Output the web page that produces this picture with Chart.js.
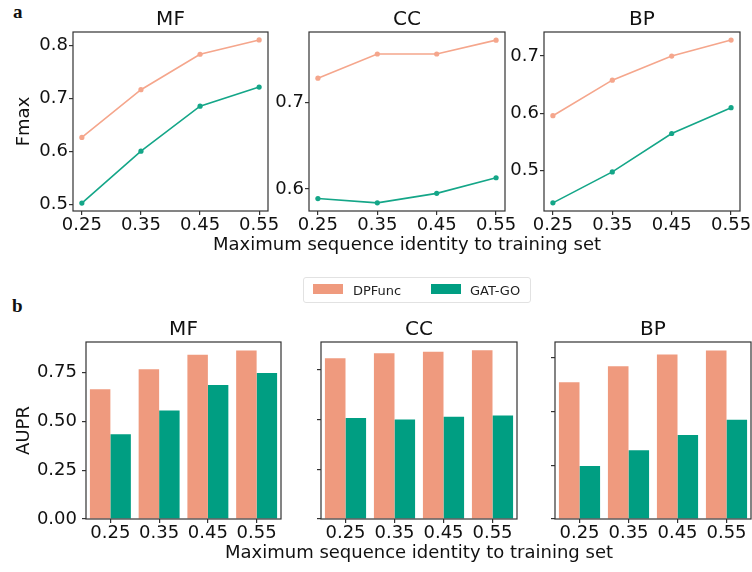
<!DOCTYPE HTML>
<html>

<head>
    <title>DPFunc vs GAT-GO</title>
    <script src="https://cdn.jsdelivr.net/npm/chart.js@4.4.1/dist/chart.umd.min.js"></script>
    <style>
        html,
        body {
            margin: 0;
            padding: 0;
            background: #fff;
            width: 752px;
            height: 572px;
            overflow: hidden;
            font-family: "DejaVu Sans", sans-serif;
        }

        canvas {
            position: absolute;
        }

        .panel {
            position: absolute;
            font-family: "Liberation Serif", serif;
            font-weight: bold;
            font-size: 19px;
            color: #111;
        }

        .xlabel {
            position: absolute;
            width: 420px;
            height: 20px;
            line-height: 20px;
            text-align: center;
            font-size: 18px;
            color: #111;
            white-space: nowrap;
        }

        #legend {
            position: absolute;
            left: 303px;
            top: 277px;
            width: 226px;
            height: 24px;
            border: 1px solid #e2e2e2;
            border-radius: 3px;
            font-size: 13px;
            color: #222;
        }

        #legend span {
            position: absolute;
            top: 5px;
        }

        #legend i {
            position: absolute;
            top: 6px;
            width: 30px;
            height: 10px;
        }
    </style>
</head>

<body>
    <div class="panel" style="left:13px;top:1px;">a</div>
    <div class="panel" style="left:12px;top:295px;">b</div>

    <canvas id="fMF" width="290" height="256" style="left:0px;top:0px;"></canvas>
    <canvas id="fCC" width="257" height="256" style="left:270px;top:0px;"></canvas>
    <canvas id="fBP" width="247" height="256" style="left:505px;top:0px;"></canvas>
    <div class="xlabel" style="left:197px;top:234px;">Maximum sequence identity to training set</div>

    <div id="legend">
        <i style="left:9px;background:#EF9A7E;"></i><span style="left:49px;">DPFunc</span>
        <i style="left:127px;background:#009E82;"></i><span style="left:166px;">GAT-GO</span>
    </div>

    <canvas id="aMF" width="287" height="258" style="left:0px;top:306px;"></canvas>
    <canvas id="aCC" width="233" height="258" style="left:290px;top:306px;"></canvas>
    <canvas id="aBP" width="227" height="258" style="left:525px;top:306px;"></canvas>
    <div class="xlabel" style="left:209px;top:542px;">Maximum sequence identity to training set</div>

    <script>
        // maximum sequence identity to training set
        const identity = ['0.25', '0.35', '0.45', '0.55'];
        const xTickValues = [0.25, 0.35, 0.45, 0.55];

        // panel a: Fmax
        const fmaxMF_DPFunc = [0.626, 0.716, 0.783, 0.810];
        const fmaxMF_GATGO = [0.502, 0.600, 0.685, 0.721];
        const fmaxCC_DPFunc = [0.728, 0.756, 0.756, 0.772];
        const fmaxCC_GATGO = [0.589, 0.584, 0.595, 0.613];
        const fmaxBP_DPFunc = [0.596, 0.658, 0.700, 0.728];
        const fmaxBP_GATGO = [0.444, 0.498, 0.565, 0.610];
        const fmaxTicksMF = [0.5, 0.6, 0.7, 0.8];
        const fmaxTicksCC = [0.6, 0.7];
        const fmaxTicksBP = [0.5, 0.6, 0.7];

        // panel b: AUPR
        const auprMF_DPFunc = [0.665, 0.767, 0.842, 0.864];
        const auprMF_GATGO = [0.434, 0.556, 0.687, 0.748];
        const auprCC_DPFunc = [0.807, 0.833, 0.840, 0.847];
        const auprCC_GATGO = [0.507, 0.500, 0.513, 0.520];
        const auprBP_DPFunc = [0.636, 0.710, 0.765, 0.784];
        const auprBP_GATGO = [0.246, 0.320, 0.390, 0.462];
        const auprTicks = [0, 0.25, 0.5, 0.75];

        const FONT = 'DejaVu Sans';
        const INK = '#111';
        const FRAME = '#333';
        const TICK_SIZE = 18;

        Chart.defaults.font.family = FONT;
        Chart.defaults.color = INK;

        // matplotlib style box around the plot area
        const framePlugin = {
            id: 'frame',
            afterDraw(chart) {
                const a = chart.chartArea;
                const ctx = chart.ctx;
                ctx.save();
                ctx.strokeStyle = FRAME;
                ctx.lineWidth = 1.2;
                ctx.strokeRect(a.left, a.top, a.right - a.left, a.bottom - a.top);
                ctx.restore();
            }
        };

        function gridOpts() {
            return {
                drawOnChartArea: false,
                drawTicks: true,
                tickLength: 4,
                color: FRAME,
                tickColor: FRAME,
                lineWidth: 1.2
            };
        }

        function lineChart(id, title, dp, gat, yMin, yMax, yTicks, o) {
            const toPts = arr => identity.map((v, i) => ({ x: parseFloat(v), y: arr[i] }));
            return new Chart(document.getElementById(id), {
                type: 'line',
                data: {
                    datasets: [{
                        label: 'DPFunc', data: toPts(dp),
                        borderColor: '#F5A68C', backgroundColor: '#F5A68C',
                        borderWidth: 1.6, pointRadius: 2.6, pointBorderWidth: 0
                    }, {
                        label: 'GAT-GO', data: toPts(gat),
                        borderColor: '#14A688', backgroundColor: '#14A688',
                        borderWidth: 1.6, pointRadius: 2.6, pointBorderWidth: 0
                    }]
                },
                options: {
                    responsive: false,
                    animation: false,
                    layout: { padding: { left: o.padLeft, right: o.padRight, top: 0, bottom: 0 } },
                    plugins: {
                        legend: { display: false },
                        tooltip: { enabled: false },
                        title: {
                            display: true, text: title, fullSize: false,
                            font: { size: 20, weight: 'normal' }, color: INK,
                            padding: { top: 8, bottom: 0 }
                        }
                    },
                    scales: {
                        x: {
                            type: 'linear', min: 0.235, max: 0.565,
                            border: { display: false },
                            grid: gridOpts(),
                            afterBuildTicks: s => { s.ticks = xTickValues.map(v => ({ value: v })); },
                            afterFit: s => { s.height = 45; },
                            ticks: {
                                font: { size: TICK_SIZE }, color: INK, padding: 0, maxRotation: 0,
                                callback: v => v.toFixed(2)
                            }
                        },
                        y: {
                            min: yMin, max: yMax,
                            border: { display: false },
                            grid: gridOpts(),
                            afterBuildTicks: s => { s.ticks = yTicks.map(v => ({ value: v })); },
                            afterFit: s => { s.width = o.yWidth; },
                            ticks: {
                                font: { size: TICK_SIZE }, color: INK, padding: 1,
                                callback: v => v.toFixed(1)
                            },
                            title: {
                                display: o.yTitle, text: 'Fmax', color: INK,
                                font: { size: 18 }, padding: { top: 6, bottom: 0 }
                            }
                        }
                    }
                },
                plugins: [framePlugin]
            });
        }

        function barChart(id, title, dp, gat, yMax, o) {
            return new Chart(document.getElementById(id), {
                type: 'bar',
                data: {
                    labels: identity,
                    datasets: [{
                        label: 'DPFunc', data: dp, backgroundColor: '#EF9A7E',
                        categoryPercentage: 0.84, barPercentage: 1.0
                    }, {
                        label: 'GAT-GO', data: gat, backgroundColor: '#009E82',
                        categoryPercentage: 0.84, barPercentage: 1.0
                    }]
                },
                options: {
                    responsive: false,
                    animation: false,
                    layout: { padding: { left: o.padLeft, right: o.padRight, top: 0, bottom: 0 } },
                    plugins: {
                        legend: { display: false },
                        tooltip: { enabled: false },
                        title: {
                            display: true, text: title, fullSize: false,
                            font: { size: 20, weight: 'normal' }, color: INK,
                            padding: { top: 12, bottom: 0 }
                        }
                    },
                    scales: {
                        x: {
                            offset: true,
                            border: { display: false },
                            grid: Object.assign(gridOpts(), { offset: false }),
                            afterFit: s => { s.height = 45; },
                            ticks: { font: { size: TICK_SIZE }, color: INK, padding: 0, maxRotation: 0 }
                        },
                        y: {
                            min: 0, max: yMax,
                            border: { display: false },
                            grid: gridOpts(),
                            afterBuildTicks: s => { s.ticks = auprTicks.map(v => ({ value: v })); },
                            afterFit: s => { s.width = o.yWidth; },
                            ticks: {
                                display: o.yLabels, font: { size: TICK_SIZE }, color: INK, padding: 5,
                                callback: v => v.toFixed(2)
                            },
                            title: {
                                display: o.yTitle, text: 'AUPR', color: INK,
                                font: { size: 18 }, padding: { top: 6, bottom: 0 }
                            }
                        }
                    }
                },
                plugins: [framePlugin]
            });
        }

        lineChart('fMF', 'MF', fmaxMF_DPFunc, fmaxMF_GATGO, 0.487, 0.825, fmaxTicksMF,
            { padLeft: 8, padRight: 22, yWidth: 65, yTitle: true });
        lineChart('fCC', 'CC', fmaxCC_DPFunc, fmaxCC_GATGO, 0.5746, 0.7814, fmaxTicksCC,
            { padLeft: 0, padRight: 22, yWidth: 39, yTitle: false });
        lineChart('fBP', 'BP', fmaxBP_DPFunc, fmaxBP_GATGO, 0.4298, 0.742, fmaxTicksBP,
            { padLeft: 0, padRight: 12, yWidth: 39, yTitle: false });

        barChart('aMF', 'MF', auprMF_DPFunc, auprMF_GATGO, 0.907,
            { padLeft: 8, padRight: 6, yWidth: 78, yTitle: true, yLabels: true });
        barChart('aCC', 'CC', auprCC_DPFunc, auprCC_GATGO, 0.889,
            { padLeft: 0, padRight: 6, yWidth: 31, yTitle: false, yLabels: false });
        barChart('aBP', 'BP', auprBP_DPFunc, auprBP_GATGO, 0.823,
            { padLeft: 0, padRight: 1, yWidth: 30, yTitle: false, yLabels: false });
    </script>
</body>

</html>
